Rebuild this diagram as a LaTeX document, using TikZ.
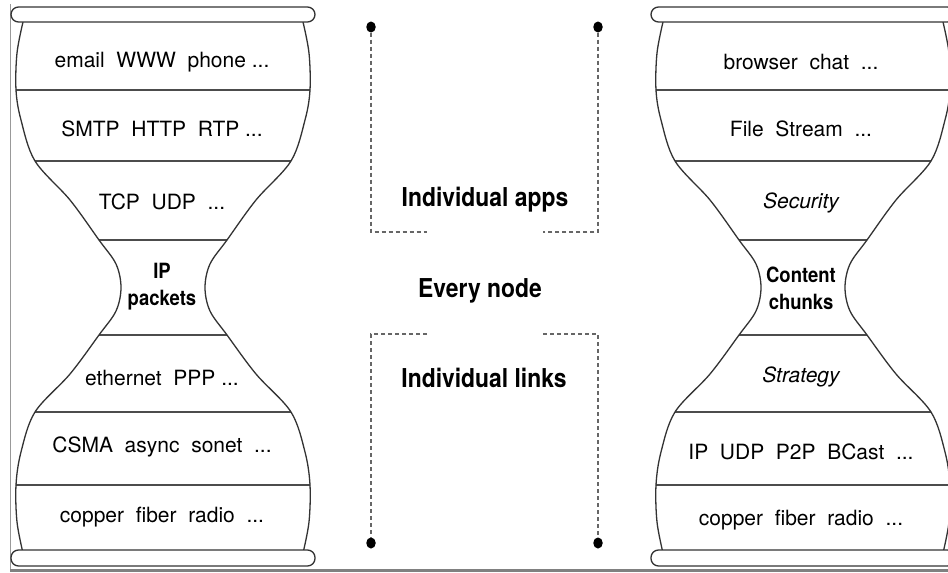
\documentclass[tikz,border=0pt]{standalone}
\usepackage{fontspec}
\usetikzlibrary{shapes.geometric}
\setmainfont{TeX Gyre Heros}
\newfontfamily\condfont[FakeStretch=0.88]{TeX Gyre Heros}
\begin{document}
\begin{tikzpicture}[x=1pt,y=-1pt,
  outline/.style={draw=black!80,line width=1.3pt},
  divider/.style={draw=black!70,line width=1.1pt},
  capbox/.style={draw=black!80,fill=white,line width=1.3pt,rounded corners=7.5pt},
  layer/.style={font=\fontsize{21}{24}\selectfont,inner sep=0pt},
  layerit/.style={font=\fontsize{21}{24}\selectfont\itshape,inner sep=0pt},
  waist/.style={font=\condfont\bfseries\fontsize{21}{27}\selectfont,align=center,inner sep=0pt},
  midlabel/.style={font=\condfont\bfseries\fontsize{26}{30}\selectfont,inner sep=0pt},
  dot/.style={ellipse,fill=black,minimum width=9.5pt,minimum height=11pt,inner sep=0pt},
  dashline/.style={draw=black!60,line width=1.1pt,dash pattern=on 4pt off 3pt},
  hg/.pic={
    \path[fill=white] (23,22) -- plot[smooth,tension=0.55] coordinates {(23,22) (17,53) (16,90) (21,120) (35,161) (70,200) (99,240) (116,264) (121,287.5) (116,311) (99,335) (70,374) (35,412) (21,452) (16,485) (17,522) (23,553)}
      -- plot[smooth,tension=0.55] coordinates {(303,553) (309,522) (310,485) (305,452) (291,412) (256,374) (227,335) (210,311) (205,287.5) (210,264) (227,240) (256,200) (291,161) (305,120) (310,90) (309,53) (303,22)} -- cycle;
    \begin{scope}
      \clip (23,22) -- plot[smooth,tension=0.55] coordinates {(23,22) (17,53) (16,90) (21,120) (35,161) (70,200) (99,240) (116,264) (121,287.5) (116,311) (99,335) (70,374) (35,412) (21,452) (16,485) (17,522) (23,553)}
      -- plot[smooth,tension=0.55] coordinates {(303,553) (309,522) (310,485) (305,452) (291,412) (256,374) (227,335) (210,311) (205,287.5) (210,264) (227,240) (256,200) (291,161) (305,120) (310,90) (309,53) (303,22)} -- cycle;
      \foreach \yy in {90,161,240,335,412,485} \draw[divider] (0,\yy) -- (330,\yy);
    \end{scope}
    \draw[outline] plot[smooth,tension=0.55] coordinates {(23,22) (17,53) (16,90) (21,120) (35,161) (70,200) (99,240) (116,264) (121,287.5) (116,311) (99,335) (70,374) (35,412) (21,452) (16,485) (17,522) (23,553)};
    \draw[outline] plot[smooth,tension=0.55] coordinates {(303,553) (309,522) (310,485) (305,452) (291,412) (256,374) (227,335) (210,311) (205,287.5) (210,264) (227,240) (256,200) (291,161) (305,120) (310,90) (309,53) (303,22)};
    \draw[capbox] (11,7) rectangle (315,22);
    \draw[capbox] (11,550) rectangle (315,566);
  }]
\useasboundingbox (0,0) rectangle (948,573);
\clip (0,0) rectangle (948,573);
\fill[white] (0,0) rectangle (948,573);
% frame lines
\draw[black!40,line width=0.8pt] (10.5,4) -- (10.5,570);
\draw[black!50,line width=3pt] (10,570.5) -- (948,570.5);
% hourglasses
\pic at (0,0) {hg};
\pic at (640,0) {hg};
% left texts
\node[layer] (l1) at (162,62) {email~~WWW~~phone~...};
\node[layer] (l2) at (162,129) {SMTP~~HTTP~~RTP~...};
\node[layer] (l3) at (162,202) {TCP~~UDP~~...};
\node[waist] (l4) at (162,287) {IP\\packets};
\node[layer] (l5) at (162,378) {ethernet~~PPP~...};
\node[layer] (l6) at (162,447) {CSMA~~async~~sonet~~...};
\node[layer] (l7) at (162,517) {copper~~fiber~~radio~~...};
% right texts
\node[layer] (r1) at (801,62) {browser~~chat~~...};
\node[layer] (r2) at (801,129) {File~~Stream~~...};
\node[layerit] (r3) at (801,203) {Security};
\node[waist] (r4) at (801,288) {Content\\chunks};
\node[layerit] (r5) at (801,377) {Strategy};
\node[layer] (r6) at (801,452) {IP~~UDP~~P2P~~BCast~~...};
\node[layer] (r7) at (801,520) {copper~~fiber~~radio~~...};
% middle
\node[dot] (d1) at (371,27) {};
\node[dot] (d2) at (598,27) {};
\node[dot] (d3) at (371,543) {};
\node[dot] (d4) at (598,543) {};
\coordinate (c1) at (371,232);
\coordinate (c2) at (427,232);
\coordinate (c3) at (598,232);
\coordinate (c4) at (543,232);
\coordinate (c5) at (371,334);
\coordinate (c6) at (427,334);
\coordinate (c7) at (598,334);
\coordinate (c8) at (543,334);
\draw[dashline] (d1) -- (c1) -- (c2);
\draw[dashline] (d2) -- (c3) -- (c4);
\draw[dashline] (c6) -- (c5) -- (d3);
\draw[dashline] (c8) -- (c7) -- (d4);
\node[midlabel] (m1) at (485,200) {Individual apps};
\node[midlabel] (m2) at (480,291) {Every node};
\node[midlabel] (m3) at (484,378) {Individual links};
\end{tikzpicture}
\end{document}
